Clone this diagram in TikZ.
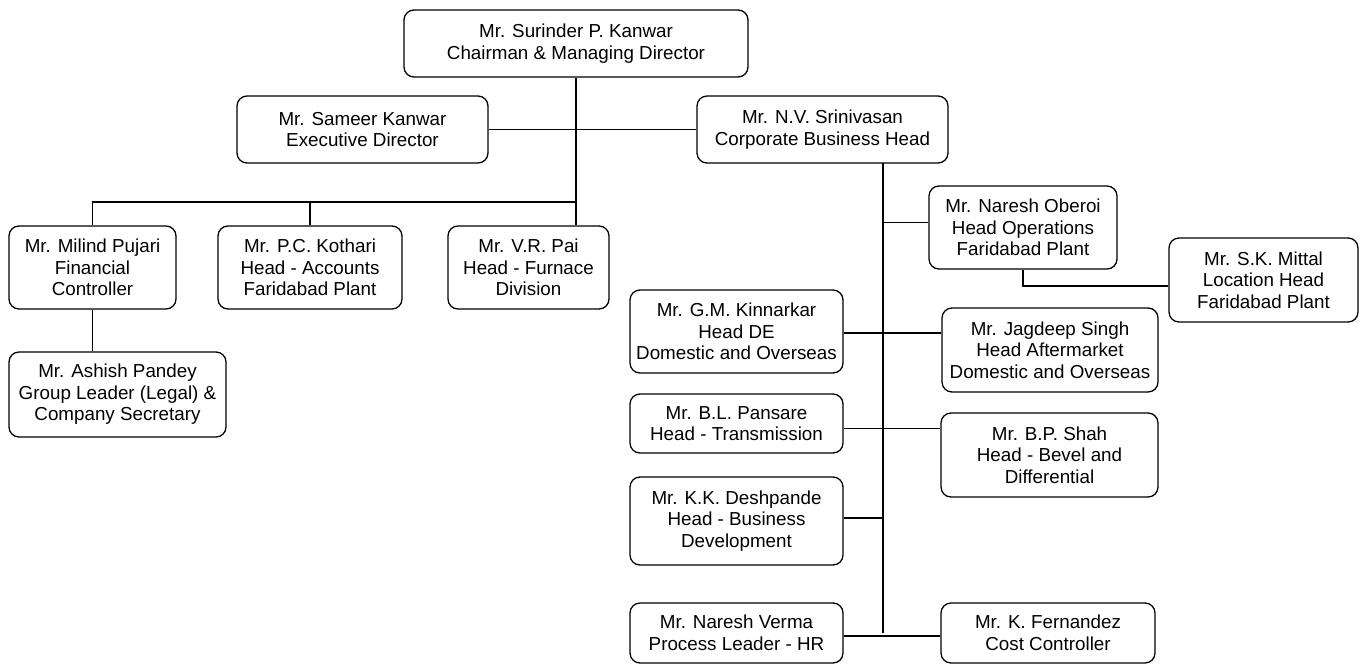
\documentclass[tikz,border=0pt]{standalone}
\usepackage{fontspec}
\setmainfont{Liberation Sans}
\begin{document}
\begin{tikzpicture}[x=1pt,y=-1pt,
  box/.style={draw=black, line width=1.3pt, rounded corners=10pt, align=center,
    inner sep=0pt, font=\fontsize{18.8}{21.5}\selectfont, fill=white},
  conn/.style={draw=black, line width=1.3pt}]
\useasboundingbox[fill=white] (0,0) rectangle (1359,664);
% top
\node[box, minimum width=344pt, minimum height=67pt] (kan) at (576,43.5) {Mr. Surinder P. Kanwar\\Chairman \& Managing Director};
\node[box, minimum width=251pt, minimum height=67pt] (sam) at (362.5,129.5) {Mr. Sameer Kanwar\\Executive Director};
\node[box, minimum width=251pt, minimum height=67pt] (sri) at (822.5,129.5) {Mr. N.V. Srinivasan\\Corporate Business Head};
% left
\node[box, minimum width=167pt, minimum height=83pt] (mil) at (92.5,267.5) {Mr. Milind Pujari\\Financial\\Controller};
\node[box, minimum width=184pt, minimum height=83pt] (kot) at (310,267.5) {Mr. P.C. Kothari\\Head - Accounts\\Faridabad Plant};
\node[box, minimum width=161pt, minimum height=83pt] (pai) at (528.5,267.5) {Mr. V.R. Pai\\Head - Furnace\\Division};
\node[box, minimum width=217pt, minimum height=85pt] (ash) at (117.5,394.5) {Mr. Ashish Pandey\\Group Leader (Legal) \&\\Company Secretary};
% right
\node[box, minimum width=188pt, minimum height=83pt] (obe) at (1023,227.5) {Mr. Naresh Oberoi\\Head Operations\\Faridabad Plant};
\node[box, minimum width=189pt, minimum height=84pt] (mit) at (1263.5,280) {Mr. S.K. Mittal\\Location Head\\Faridabad Plant};
\node[box, minimum width=213pt, minimum height=83pt] (kin) at (736.5,331.5) {Mr. G.M. Kinnarkar\\Head DE\\Domestic and Overseas};
\node[box, minimum width=216pt, minimum height=84pt] (jag) at (1050,350) {Mr. Jagdeep Singh\\Head Aftermarket\\Domestic and Overseas};
\node[box, minimum width=213pt, minimum height=59pt] (pan) at (736.5,423.5) {Mr. B.L. Pansare\\Head - Transmission};
\node[box, minimum width=217pt, minimum height=84pt] (sha) at (1049.5,455) {Mr. B.P. Shah\\Head - Bevel and\\Differential};
\node[box, minimum width=213pt, minimum height=88pt] (des) at (736.5,521) {Mr. K.K. Deshpande\\Head - Business\\Development};
\node[box, minimum width=213pt, minimum height=60pt] (ver) at (736.5,633) {Mr. Naresh Verma\\Process Leader - HR};
\node[box, minimum width=214pt, minimum height=60pt] (fer) at (1048,633) {Mr. K. Fernandez\\Cost Controller};
% junctions
\coordinate (trunktop) at (883,163);
\coordinate (bus) at (576,202);
% connectors
\draw[conn] (kan.south) -- (kan.south |- pai.north);
\draw[conn] (sam.east) -- (sri.west);
\draw[conn] (mil.north) |- (bus);
\draw[conn] (kot.north) |- (bus);
\draw[conn] (mil.south) -- (ash.north -| mil.south);
\draw[conn] (trunktop) -- (trunktop |- ver.east);
\draw[conn] ([yshift=5pt]obe.west) -- ([yshift=5pt]obe.west -| trunktop);
\draw[conn] (obe.south) |- ([yshift=-6pt]mit.west);
\draw[conn] ([yshift=-1.5pt]kin.east) -- ([yshift=-1.5pt]kin.east -| jag.west);
\draw[conn] ([yshift=-5pt]pan.east) -- ([yshift=-5pt]pan.east -| sha.west);
\draw[conn] ([yshift=3pt]des.east) -- ([yshift=3pt]des.east -| trunktop);
\draw[conn] ([yshift=-3pt]ver.east) -- ([yshift=-3pt]ver.east -| fer.west);
\end{tikzpicture}
\end{document}
